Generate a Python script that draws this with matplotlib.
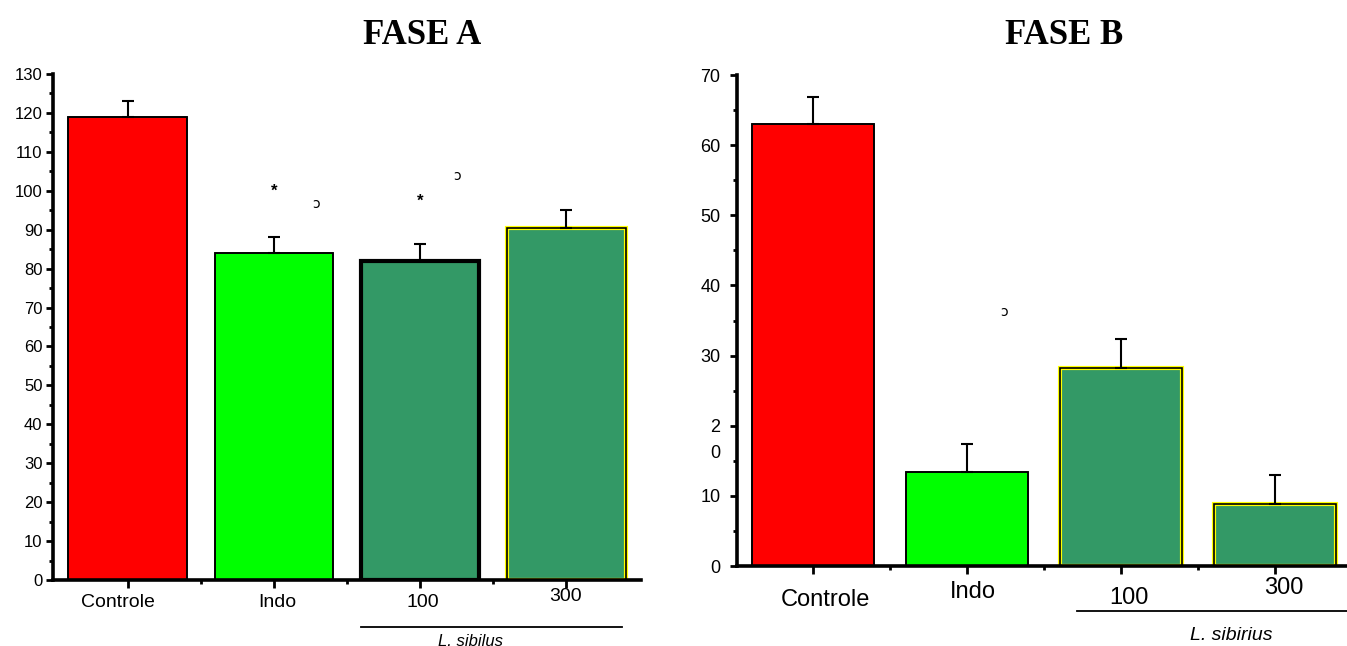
import numpy as np
import matplotlib
matplotlib.use('Agg')
import matplotlib.pyplot as plt
from matplotlib.transforms import offset_copy
from matplotlib.ticker import MultipleLocator

# data
categories = ['Controle', 'Indo', '100', '300']
fase_a_mean = [119, 84, 82, 90.5]
fase_a_err = [4, 4, 4.2, 4.5]
fase_b_mean = [63, 13.4, 28.2, 8.8]
fase_b_err = [3.9, 4.0, 4.2, 4.2]
bar_colors = ['#ff0000', '#00ff00', '#339966', '#339966']

plt.rcParams['font.family'] = ['Liberation Sans', 'DejaVu Sans']

fig = plt.figure(figsize=(13.47, 6.46), dpi=100)
axA = fig.add_axes([0.0393, 0.1022, 0.4365, 0.7833])
axB = fig.add_axes([0.5471, 0.1238, 0.4529, 0.760])


def style_axis(ax, ymax, ymajor, yfs, ypad):
    ax.set_ylim(0, ymax)
    for s in ['top', 'right']:
        ax.spines[s].set_visible(False)
    ax.spines['left'].set_linewidth(2.6)
    ax.spines['bottom'].set_linewidth(2.6)
    ax.yaxis.set_major_locator(MultipleLocator(ymajor))
    ax.yaxis.set_minor_locator(MultipleLocator(ymajor / 2))
    ax.tick_params(axis='y', which='major', length=5, width=2, labelsize=yfs, pad=ypad)
    ax.tick_params(axis='y', which='minor', length=3, width=2)
    ax.set_xticks(range(len(categories)))
    ax.set_xticks([0.5, 1.5, 2.5], minor=True)
    ax.tick_params(axis='x', which='major', length=6, width=2, labelbottom=False)
    ax.tick_params(axis='x', which='minor', length=3, width=2)


def draw_bars(ax, means, errs, edges, lws, width):
    x = np.arange(len(categories))
    ax.bar(x, means, width=width, color=bar_colors, edgecolor=edges, linewidth=lws, zorder=2)
    ax.bar(x, means, width=width, color='none', edgecolor='black', linewidth=1.2, zorder=3)
    ax.errorbar(x, means, yerr=[np.zeros(len(errs)), errs], fmt='none', ecolor='black',
                elinewidth=1.5, capsize=4, capthick=1.5, zorder=4)


def xlabels(ax, dx, dy, fs):
    for i, lbl in enumerate(categories):
        tr = offset_copy(ax.get_xaxis_transform(), fig=fig, x=dx[i], y=-dy[i], units='dots')
        ax.text(i, 0, lbl, transform=tr, ha='center', va='center', fontsize=fs)


# FASE A
style_axis(axA, 130, 10, 12, 2.5)
axA.set_xlim(-0.51, 3.51)
draw_bars(axA, fase_a_mean, fase_a_err, ['black', 'black', 'black', '#ffff00'], [1.2, 1.2, 3, 3], 0.81)
xlabels(axA, [-10, 4, 3, -1], [23, 23, 23, 17], 14)
axA.text(1.0, 99.8, '*', ha='center', va='center', fontsize=12, fontweight='bold')
axA.text(1.29, 96.5, 'ɔ', ha='center', va='center', fontsize=10, family='DejaVu Sans')
axA.text(2.0, 97.2, '*', ha='center', va='center', fontsize=12, fontweight='bold')
axA.text(2.25, 103.8, 'ɔ', ha='center', va='center', fontsize=10, family='DejaVu Sans')
fig.text(422 / 1347, 1 - 35 / 646, 'FASE A', ha='center', va='center', fontsize=25,
         fontweight='bold', family='Liberation Serif')
fig.add_artist(plt.Line2D([361 / 1347, 622 / 1347], [1 - 627 / 646] * 2, color='black', lw=1.3))
fig.text(470 / 1347, 1 - 641 / 646, 'L. sibilus', ha='center', va='center', fontsize=12, style='italic')

# FASE B
ypadB = 7
style_axis(axB, 70, 10, 13, ypadB)
axB.set_xlim(-0.494, 3.468)
draw_bars(axB, fase_b_mean, fase_b_err, ['black', 'black', '#ffff00', '#ffff00'], [1.2, 1.2, 3, 3], 0.79)
ylabs = ['0', '10', '2', '30', '40', '50', '60', '70']
axB.set_yticks(range(0, 80, 10))
axB.set_yticklabels(ylabs)
axB.annotate('0', xy=(0, 20), xycoords=('axes fraction', 'data'), xytext=(-(5 + ypadB), -20),
             textcoords='offset points', ha='right', va='center', fontsize=13)
xlabels(axB, [12, 6, 8, 9], [34, 26, 32, 22], 17)
axB.text(1.24, 36.2, 'ɔ', ha='center', va='center', fontsize=10, family='DejaVu Sans')
fig.text(1064 / 1347, 1 - 35 / 646, 'FASE B', ha='center', va='center', fontsize=25,
         fontweight='bold', family='Liberation Serif')
fig.add_artist(plt.Line2D([1077 / 1347, 1.0], [1 - 611 / 646] * 2, color='black', lw=1.3))
fig.text(1231 / 1347, 1 - 636 / 646, 'L. sibirius', ha='center', va='center', fontsize=14, style='italic')

fig.savefig('out.png', dpi=100)
